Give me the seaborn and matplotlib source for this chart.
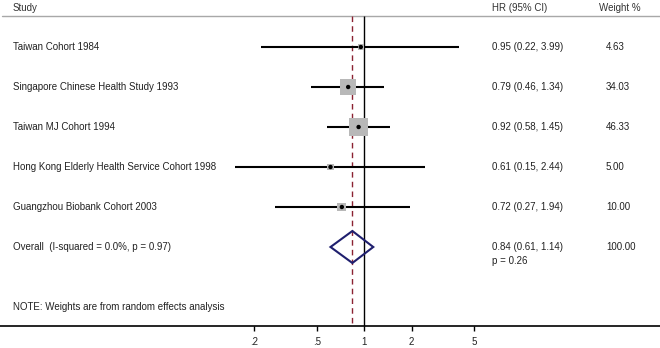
import matplotlib
matplotlib.use('Agg')
import matplotlib.pyplot as plt
import matplotlib.transforms as mtransforms
import numpy as np
import pandas as pd
import seaborn as sns

studies = ['Taiwan Cohort 1984', 'Singapore Chinese Health Study 1993', 'Taiwan MJ Cohort 1994',
           'Hong Kong Elderly Health Service Cohort 1998', 'Guangzhou Biobank Cohort 2003']
hr = [0.95, 0.79, 0.92, 0.61, 0.72]
lower = [0.22, 0.46, 0.58, 0.15, 0.27]
upper = [3.99, 1.34, 1.45, 2.44, 1.94]
weights = [4.63, 34.03, 46.33, 5.00, 10.00]
overall_label = 'Overall  (I-squared = 0.0%, p = 0.97)'
overall_hr, overall_lo, overall_hi = 0.84, 0.61, 1.14
overall_weight = 100.00
overall_p = 'p = 0.26'
tick_vals = [0.2, 0.5, 1, 2, 5]
tick_labels = ['.2', '.5', '1', '2', '5']

sns.set_theme(style='white')
plt.rcParams['font.family'] = ['Liberation Sans', 'DejaVu Sans']

W, H = 660, 348
fig = plt.figure(figsize=(W / 100, H / 100), dpi=100)
ax = fig.add_axes([0, 0, 1, 1])
ax.set_xscale('log')
# 157.4 px per decade, HR=1 at x=364
ppd, x1 = 157.4, 364.3
ax.set_xlim(10 ** (-x1 / ppd), 10 ** ((W - x1) / ppd))
ax.set_ylim(H, 0)
ax.axis('off')
tr = mtransforms.blended_transform_factory(ax.transAxes, ax.transData)

rows = [47 + 40 * i for i in range(len(studies))]
y_over = rows[-1] + 40
y_top, y_axis = 16, 326
fs = 7.0
tc = '#222222'

df = pd.DataFrame({'study': studies, 'hr': hr, 'lo': lower, 'hi': upper, 'w': weights, 'y': rows})

# header
ax.text(13 / W, 8, 'Study', transform=tr, fontsize=fs, va='center', color='#333333')
ax.text(492 / W, 8, 'HR (95% CI)', transform=tr, fontsize=fs, va='center', color='#333333')
ax.text(599 / W, 8, 'Weight %', transform=tr, fontsize=fs, va='center', color='#333333')
ax.plot([2 / W, 1], [y_top, y_top], transform=tr, color='#a8a8a8', lw=1)

# reference lines
ax.vlines(1, y_top, y_axis, color='black', lw=1)
ax.vlines(overall_hr, y_top, y_axis, color='#8b2232', lw=1, linestyles=(0, (4, 3)))

# CIs, boxes, points
ax.hlines(df['y'], df['lo'], df['hi'], color='black', lw=1.5, zorder=2)
k = (2.75 * 0.72) ** 2
sns.scatterplot(data=df, x='hr', y='y', size='w', sizes=(k * min(weights), k * max(weights)),
                size_norm=(min(weights), max(weights)), marker='s', color='#b8b8b8',
                edgecolor='none', legend=False, ax=ax, zorder=3)
sns.scatterplot(data=df, x='hr', y='y', s=10, color='black', edgecolor='none', legend=False, ax=ax, zorder=4)

# overall diamond
ax.fill([overall_lo, overall_hr, overall_hi, overall_hr],
        [y_over, y_over - 16, y_over, y_over + 16],
        facecolor='none', edgecolor='#1f1f6e', lw=1.5, zorder=5)

# text columns
for _, r in df.iterrows():
    ax.text(13 / W, r['y'], r['study'], transform=tr, fontsize=fs, va='center', color=tc)
    ax.text(492 / W, r['y'], f"{r['hr']:.2f} ({r['lo']:.2f}, {r['hi']:.2f})", transform=tr,
            fontsize=fs, va='center', color=tc)
    ax.text(606 / W, r['y'], f"{r['w']:.2f}", transform=tr, fontsize=fs, va='center', color=tc)
ax.text(13 / W, y_over, overall_label, transform=tr, fontsize=fs, va='center', color=tc)
ax.text(492 / W, y_over, f'{overall_hr:.2f} ({overall_lo:.2f}, {overall_hi:.2f})', transform=tr,
        fontsize=fs, va='center', color=tc)
ax.text(492 / W, y_over + 14, overall_p, transform=tr, fontsize=fs, va='center', color=tc)
ax.text(606 / W, y_over, f'{overall_weight:.2f}', transform=tr, fontsize=fs, va='center', color=tc)
ax.text(13 / W, 307, 'NOTE: Weights are from random effects analysis', transform=tr,
        fontsize=fs, va='center', color=tc)

# x axis
ax.plot([0, 1], [y_axis, y_axis], transform=tr, color='black', lw=1.2)
ax.vlines(tick_vals, y_axis, y_axis + 5, color='black', lw=1)
for v, lab in zip(tick_vals, tick_labels):
    ax.text(v, y_axis + 16, lab, fontsize=fs, ha='center', va='center', color=tc)

fig.savefig('out.png', dpi=100)
